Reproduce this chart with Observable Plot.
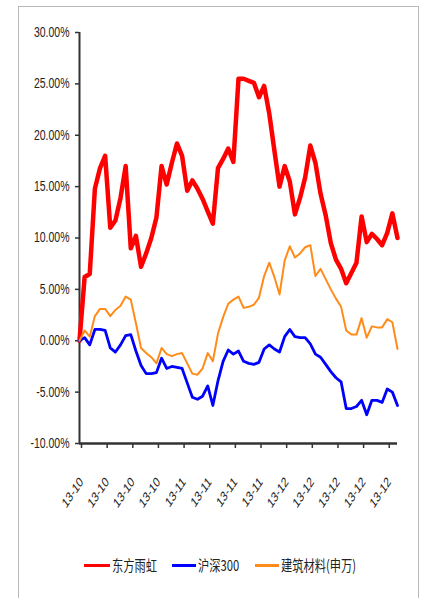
<!DOCTYPE html>
<html><head><meta charset="utf-8">
<script src="https://cdn.jsdelivr.net/npm/d3@7"></script>
<script src="https://cdn.jsdelivr.net/npm/@observablehq/plot@0.6"></script>
<style>
body{margin:0;background:#fff;}
#wrap{position:relative;width:425px;height:598px;overflow:hidden;}
#frame{position:absolute;left:18px;top:6px;width:401px;height:620px;border:1px solid #b8b8b8;box-sizing:border-box;}
#chart{position:absolute;left:0;top:0;}
#legend{position:absolute;left:0;top:553px;width:425px;height:24px;font-family:"Noto Sans CJK SC",sans-serif;font-size:15px;color:#222;}
.item{position:absolute;top:0;height:24px;}
.sw{position:absolute;left:0;top:11px;height:3px;width:26px;}
.lab{position:absolute;left:28px;top:0;line-height:24px;white-space:nowrap;transform:scaleX(0.75);transform-origin:0 50%;}
</style></head>
<body>
<div id="wrap"><div id="frame"></div><div id="chart"></div><div id="legend"></div></div>
<script>
const seriesNames = ["东方雨虹", "沪深300", "建筑材料(申万)"];
const seriesColors = ["#ff0000", "#0000ff", "#ff8c1a"];
const xLabels = ["13-10","13-10","13-10","13-10","13-11","13-11","13-11","13-11","13-12","13-12","13-12","13-12","13-12"];
const yTicks = [-10, -5, 0, 5, 10, 15, 20, 25, 30];
const red = [0,6.2,6.5,14.8,16.8,18.0,11.0,11.7,13.9,17.0,9.0,10.2,7.2,8.5,10.0,12.0,17.0,15.2,17.3,19.2,18.0,14.6,15.6,14.8,13.8,12.6,11.4,16.8,17.7,18.7,17.4,25.5,25.5,25.3,25.1,23.7,24.8,22.1,18.5,15.0,17.0,15.5,12.3,13.9,15.9,19.0,17.3,14.3,12.2,9.5,7.9,7.0,5.6,6.6,7.6,12.1,9.6,10.4,9.9,9.3,10.5,12.4,10.0];
const hs300 = [0,0.3,-0.4,1.1,1.1,1.0,-0.7,-1.1,-0.4,0.5,0.6,-1.0,-2.4,-3.2,-3.2,-3.1,-1.7,-2.7,-2.5,-2.6,-2.7,-4.1,-5.5,-5.7,-5.4,-4.4,-6.3,-3.9,-2.0,-0.9,-1.3,-1.0,-2.0,-2.2,-2.3,-2.1,-0.8,-0.4,-0.8,-1.1,0.4,1.1,0.4,0.3,0.3,-0.3,-1.3,-1.6,-2.3,-3.0,-3.6,-4.0,-6.6,-6.6,-6.4,-5.8,-7.2,-5.8,-5.8,-6.0,-4.7,-5.0,-6.3];
const building = [0,1.0,0.4,2.4,3.1,3.1,2.4,3.0,3.4,4.3,4.0,1.7,-0.7,-1.2,-1.6,-2.2,-0.7,-1.3,-1.5,-1.3,-1.2,-2.2,-3.2,-3.3,-2.7,-1.2,-2.0,0.7,2.3,3.6,4.0,4.3,3.2,3.3,3.5,4.2,6.3,7.6,6.2,4.5,7.8,9.2,8.1,8.5,9.1,9.3,6.3,7.0,6.0,5.0,4.1,3.3,1.0,0.6,0.6,2.2,0.3,1.4,1.3,1.3,2.1,1.8,-0.8];

const allSeries = [red, hs300, building];
const widths = [4.5, 2.8, 2];
const xTickIdx = xLabels.map((_, k) => k * 5);
const rows = (vals) => vals.map((v, i) => ({i, v}));

const chart = Plot.plot({
  width: 425, height: 530,
  marginLeft: 79, marginRight: 28, marginTop: 32, marginBottom: 87,
  style: {fontFamily: "'Liberation Sans', Arial, sans-serif", fontSize: "14px", color: "#222", background: "transparent"},
  x: {domain: [0, red.length - 1]},
  y: {domain: [-10, 30]},
  marks: [
    Plot.axisY({ticks: yTicks, tickFormat: d => d.toFixed(2) + "%", tickSize: 4, tickPadding: 6, label: null, stroke: "#333", strokeWidth: 1.5}),
    Plot.axisX({ticks: xTickIdx, tickFormat: d => xLabels[xTickIdx.indexOf(d)], tickSize: 5, tickPadding: 31, tickRotate: -47, textAnchor: "end", label: null, stroke: "#333", strokeWidth: 1.5, dx: 2}),
    Plot.ruleX([0], {stroke: "#333", strokeWidth: 2}),
    Plot.ruleY([-10], {stroke: "#333", strokeWidth: 2.5}),
    ...allSeries.map((s, k) => Plot.line(rows(s), {x: "i", y: "v", stroke: seriesColors[k], strokeWidth: widths[k], strokeLinejoin: "round", strokeLinecap: "round"}))
  ]
});
document.getElementById("chart").appendChild(chart);

chart.querySelectorAll('[aria-label="x-axis tick label"] text').forEach(t => {
  const tr = t.getAttribute("transform") || "";
  t.setAttribute("transform", tr.replace("rotate(", "scale(0.72,1) rotate("));
});
chart.querySelectorAll('[aria-label="y-axis tick label"] text').forEach(t => {
  const tr = t.getAttribute("transform") || "";
  t.setAttribute("transform", tr + " scale(0.75,1)");
});

const legendPos = [[84, 26], [172, 24], [255, 24]];
const legend = document.getElementById("legend");
seriesNames.forEach((n, k) => {
  const item = document.createElement("div");
  item.className = "item";
  item.style.left = legendPos[k][0] + "px";
  const sw = document.createElement("div");
  sw.className = "sw";
  sw.style.width = legendPos[k][1] + "px";
  sw.style.background = seriesColors[k];
  const lab = document.createElement("div");
  lab.className = "lab";
  lab.style.left = (legendPos[k][1] + 2) + "px";
  lab.textContent = n;
  item.appendChild(sw); item.appendChild(lab);
  legend.appendChild(item);
});
</script>
</body></html>
